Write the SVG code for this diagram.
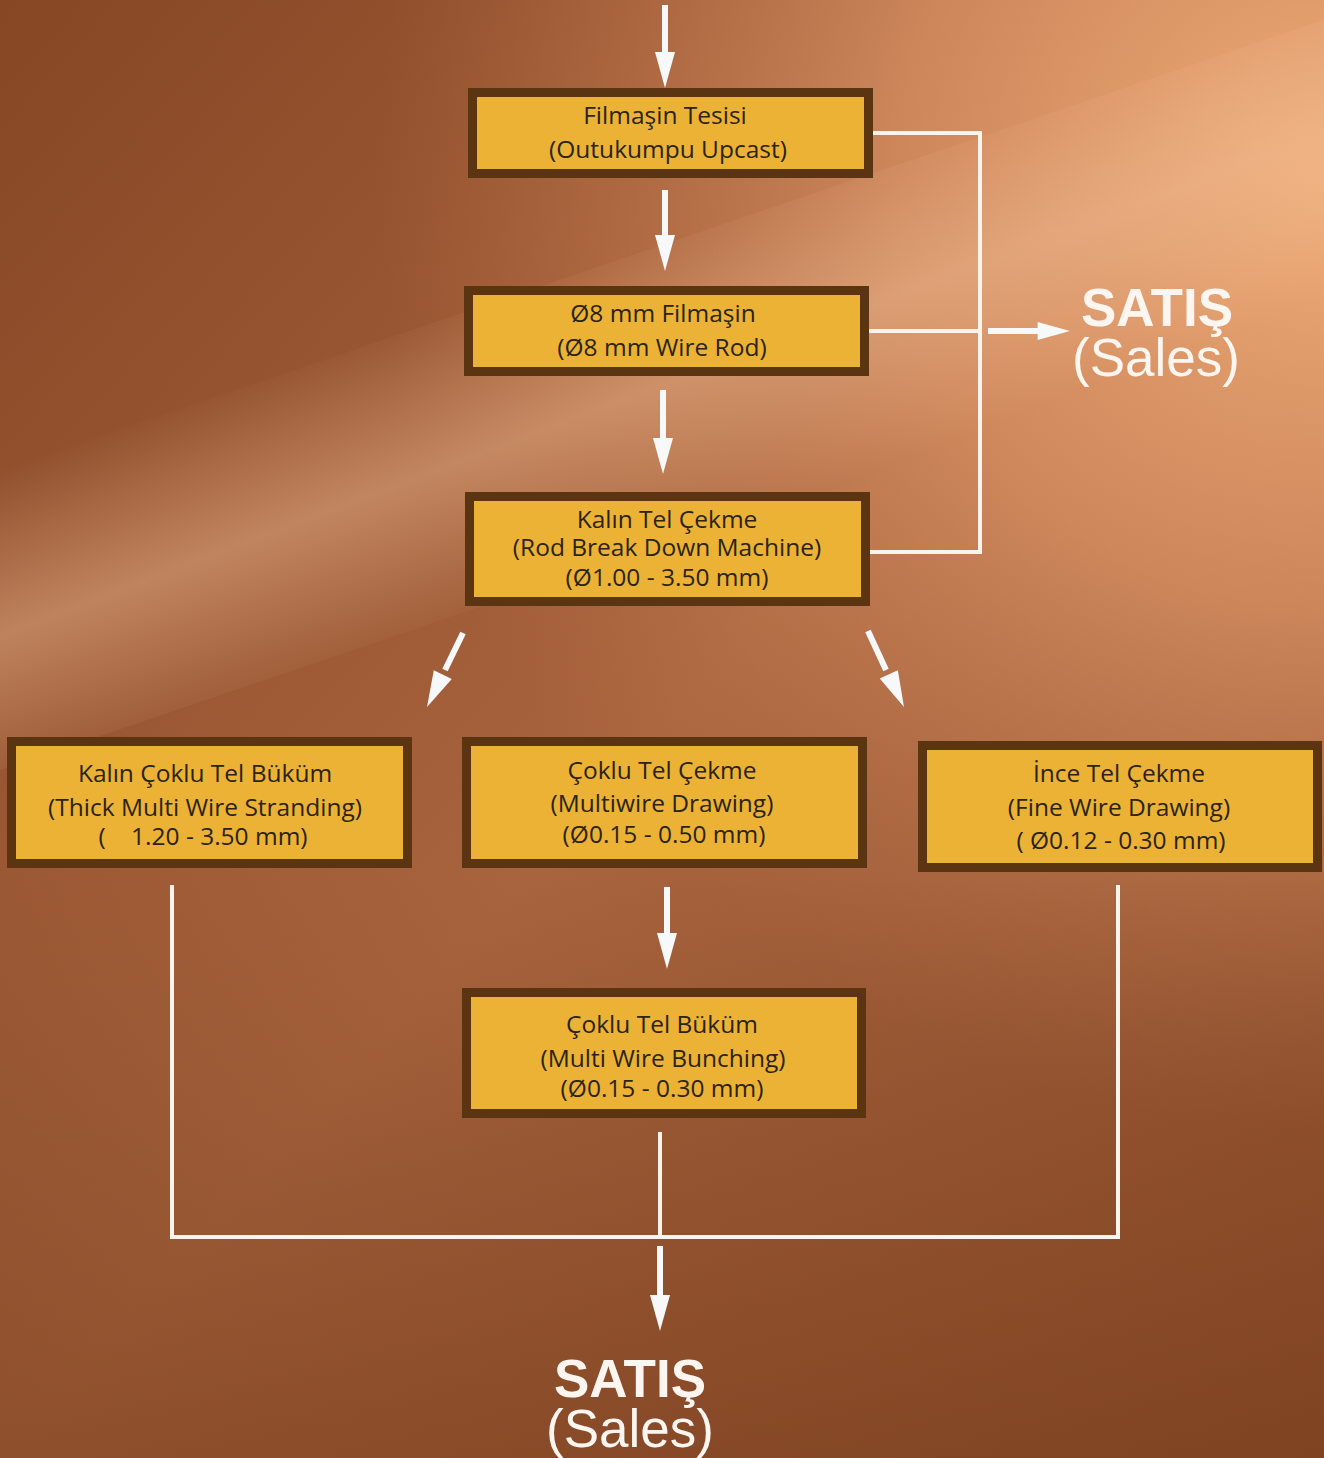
<svg xmlns="http://www.w3.org/2000/svg" width="1324" height="1458" viewBox="0 0 1324 1458">
<defs>
<linearGradient id="bg" x1="0" y1="0" x2="1" y2="1">
<stop offset="0" stop-color="#874624"/>
<stop offset="0.5" stop-color="#a8643e"/>
<stop offset="1" stop-color="#8e4e2c"/>
</linearGradient>
<radialGradient id="hl" cx="1324" cy="180" r="950" gradientUnits="userSpaceOnUse">
<stop offset="0" stop-color="#f0ad78" stop-opacity="1"/>
<stop offset="0.45" stop-color="#dc9466" stop-opacity="0.75"/>
<stop offset="1" stop-color="#c07a50" stop-opacity="0"/>
</radialGradient>
<linearGradient id="streak" gradientUnits="userSpaceOnUse" x1="0" y1="470" x2="110" y2="760">
<stop offset="0" stop-color="#f0bd95" stop-opacity="0"/>
<stop offset="0.5" stop-color="#f0bd95" stop-opacity="0.45"/>
<stop offset="1" stop-color="#f0bd95" stop-opacity="0"/>
</linearGradient>
<linearGradient id="dark" x1="0" y1="0" x2="0" y2="1">
<stop offset="0" stop-color="#6e3616" stop-opacity="0"/>
<stop offset="0.6" stop-color="#6e3616" stop-opacity="0"/>
<stop offset="1" stop-color="#6e3616" stop-opacity="0.45"/>
</linearGradient>
<path id="ah" d="M-10,-36 L10,-36 L0,0 z"/>
</defs>
<style>
.box{fill:#ebb236;stroke:#5b3512;stroke-width:9}
.t{font-family:"Open Sans","Noto Sans",sans-serif;font-size:24.5px;fill:#2b2414;text-anchor:middle;white-space:pre}
.arr{stroke:#f6f8fa;stroke-width:6;fill:none}
.head{fill:#f6f8fa}
.ln{stroke:#fbf4ec;stroke-width:4;fill:none}
.sb{font-family:"Liberation Sans",Arial,sans-serif;font-weight:bold;font-size:53px;fill:#fdf6f0;text-anchor:middle}
.sr{font-family:"Liberation Sans",Arial,sans-serif;font-weight:normal;font-size:53px;fill:#fdf6f0;text-anchor:middle}
</style>
<rect x="0" y="0" width="1324" height="1458" fill="url(#bg)"/>
<rect x="0" y="0" width="1324" height="1458" fill="url(#hl)"/>
<polygon points="0,470 1324,20 1324,320 0,770" fill="url(#streak)"/>
<rect x="0" y="0" width="1324" height="1458" fill="url(#dark)"/>

<g id="connectors">
<line class="arr" x1="665" y1="5" x2="665" y2="60"/>
<use href="#ah" class="head" transform="translate(665,88)"/>
<line class="arr" x1="665" y1="190" x2="665" y2="240"/>
<use href="#ah" class="head" transform="translate(665,271)"/>
<line class="arr" x1="663" y1="390" x2="663" y2="440"/>
<use href="#ah" class="head" transform="translate(663,474)"/>
<line class="arr" x1="463" y1="633" x2="445" y2="670"/>
<use href="#ah" class="head" transform="translate(427,707) rotate(26)"/>
<line class="arr" x1="868" y1="631" x2="886" y2="670"/>
<use href="#ah" class="head" transform="translate(904,707) rotate(-25)"/>
<line class="arr" x1="667" y1="887" x2="667" y2="940"/>
<use href="#ah" class="head" transform="translate(667,969)"/>
<polyline class="ln" points="873,133 980,133 980,552 870,552"/>
<line class="ln" x1="869" y1="331" x2="980" y2="331"/>
<line class="arr" x1="988" y1="331" x2="1040" y2="331"/>
<use href="#ah" class="head" transform="translate(1070,331) rotate(-90) scale(0.9,0.9)"/>
<polyline class="ln" points="172,885 172,1237 1118,1237 1118,885"/>
<line class="ln" x1="660" y1="1132" x2="660" y2="1237"/>
<line class="arr" x1="660" y1="1246" x2="660" y2="1300"/>
<use href="#ah" class="head" transform="translate(660,1331)"/>
</g>

<g id="n1">
<rect class="box" x="472.5" y="92.5" width="396" height="81"/>
<text class="t" x="665" y="124">Filmaşin Tesisi</text>
<text class="t" x="668" y="158">(Outukumpu Upcast)</text>
</g>
<g id="n2">
<rect class="box" x="468.5" y="290.5" width="396" height="81"/>
<text class="t" x="663" y="322">Ø8 mm Filmaşin</text>
<text class="t" x="662" y="356">(Ø8 mm Wire Rod)</text>
</g>
<g id="n3">
<rect class="box" x="469.5" y="496.5" width="396" height="105"/>
<text class="t" x="667" y="528">Kalın Tel Çekme</text>
<text class="t" x="667" y="556">(Rod Break Down Machine)</text>
<text class="t" x="667" y="586">(Ø1.00 - 3.50 mm)</text>
</g>
<g id="n4">
<rect class="box" x="11.5" y="741.5" width="396" height="122"/>
<text class="t" x="205" y="782">Kalın Çoklu Tel Büküm</text>
<text class="t" x="205" y="816">(Thick Multi Wire Stranding)</text>
<text class="t" x="203" y="845">(    1.20 - 3.50 mm)</text>
</g>
<g id="n5">
<rect class="box" x="466.5" y="741.5" width="396" height="122"/>
<text class="t" x="662" y="779">Çoklu Tel Çekme</text>
<text class="t" x="662" y="812">(Multiwire Drawing)</text>
<text class="t" x="664" y="843">(Ø0.15 - 0.50 mm)</text>
</g>
<g id="n6">
<rect class="box" x="922.5" y="745.5" width="395" height="122"/>
<text class="t" x="1119" y="782">İnce Tel Çekme</text>
<text class="t" x="1119" y="816">(Fine Wire Drawing)</text>
<text class="t" x="1121" y="849">( Ø0.12 - 0.30 mm)</text>
</g>
<g id="n7">
<rect class="box" x="466.5" y="992.5" width="395" height="121"/>
<text class="t" x="662" y="1033">Çoklu Tel Büküm</text>
<text class="t" x="663" y="1067">(Multi Wire Bunching)</text>
<text class="t" x="662" y="1097">(Ø0.15 - 0.30 mm)</text>
</g>
<g id="sales-right">
<text class="sb" x="1157" y="326">SATIŞ<tspan class="sr" x="1156" y="376">(Sales)</tspan></text>
</g>
<g id="sales-bottom">
<text class="sb" x="630" y="1397">SATIŞ<tspan class="sr" x="630" y="1447">(Sales)</tspan></text>
</g>
</svg>
